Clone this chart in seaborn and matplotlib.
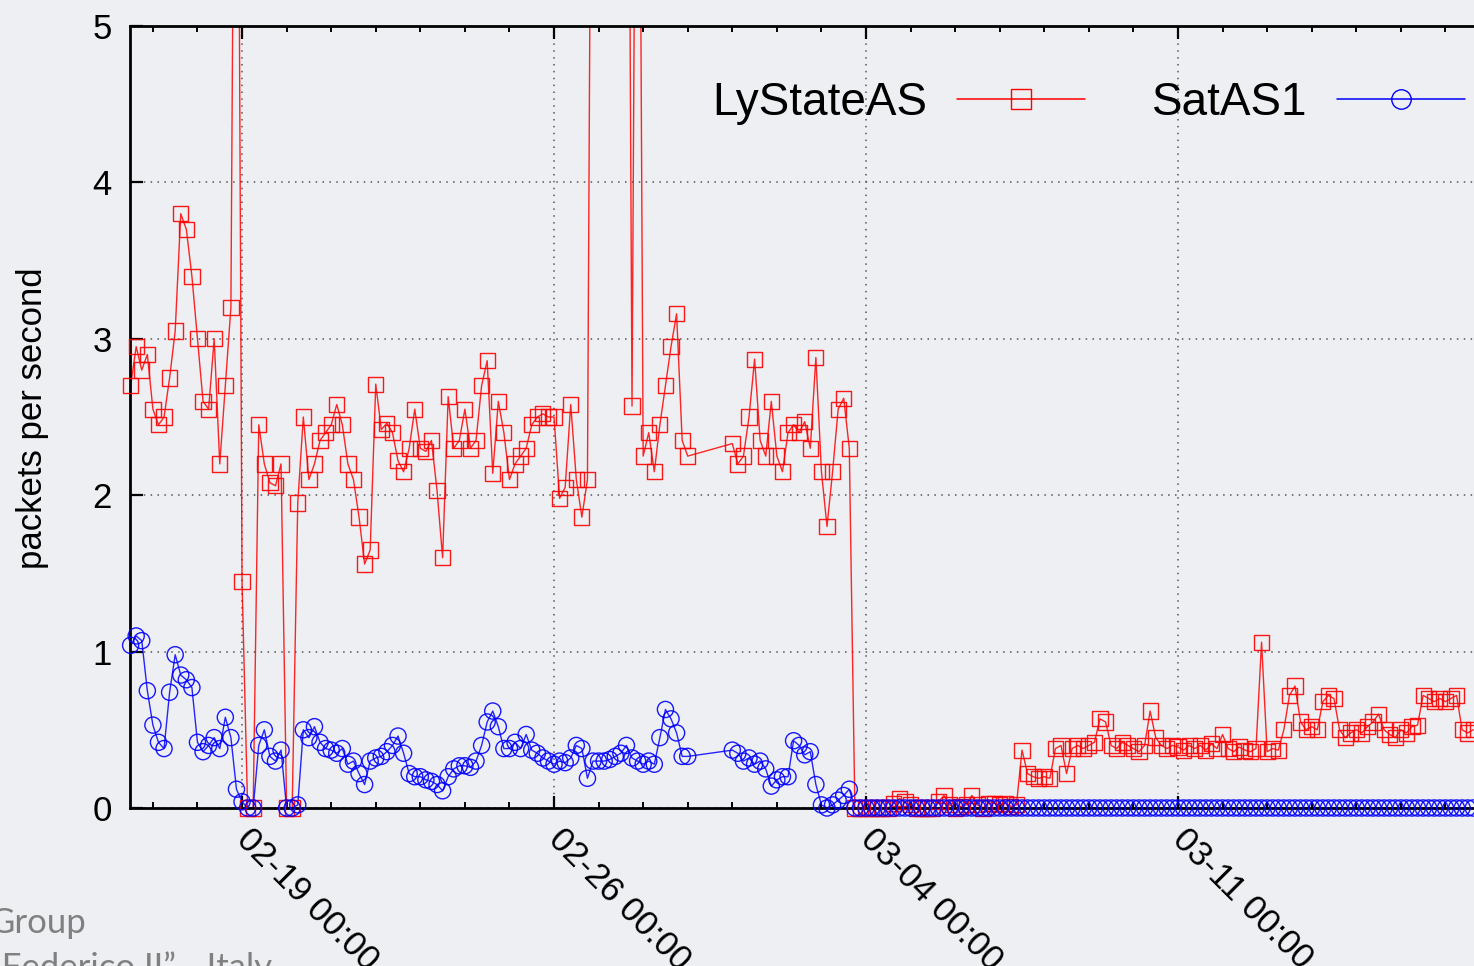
import numpy as np
import pandas as pd
import matplotlib
matplotlib.use("Agg")
import matplotlib.pyplot as plt
import matplotlib.dates as mdates
from matplotlib.lines import Line2D
import seaborn as sns

nan = np.nan

# samples every 3 hours starting 2008-02-16 12:00
start_time = "2008-02-16 12:00"
sample_step = "3h"

lystate_pps = [
    2.70, 2.95, 2.80, 2.90,                          # 02-16 12h-21h
    2.55, 2.45, 2.50, 2.75, 3.05, 3.80, 3.70, 3.40,  # 02-17
    3.00, 2.60, 2.55, 3.00, 2.20, 2.70, 3.20, 9.00,  # 02-18
    1.45, 0.00, 0.00, 2.45, 2.20, 2.08, 2.06, 2.20,  # 02-19
    0.00, 0.00, 1.95, 2.50, 2.10, 2.20, 2.35, 2.40,  # 02-20
    2.45, 2.58, 2.45, 2.20, 2.10, 1.86, 1.56, 1.65,  # 02-21
    2.71, 2.42, 2.46, 2.40, 2.22, 2.15, 2.30, 2.55,  # 02-22
    2.30, 2.28, 2.35, 2.03, 1.60, 2.63, 2.30, 2.35,  # 02-23
    2.55, 2.30, 2.35, 2.70, 2.86, 2.14, 2.60, 2.40,  # 02-24
    2.10, 2.20, 2.25, 2.30, 2.45, 2.50, 2.52, 2.50,  # 02-25
    2.50, 1.98, 2.05, 2.58, 2.10, 1.86, 2.10, 9.00,  # 02-26
    8.50, 12.0, 10.0, 9.00, 11.0, 9.50, 2.57, 9.00,  # 02-27
    2.25, 2.40, 2.15, 2.45, 2.70, 2.95, 3.16, 2.35,  # 02-28
    2.25, nan, nan, nan, nan, nan, nan, nan,          # 02-29 (no data)
    2.33, 2.20, 2.25, 2.50, 2.87, 2.35, 2.25, 2.60,  # 03-01
    2.25, 2.15, 2.40, 2.45, 2.40, 2.47, 2.30, 2.88,  # 03-02
    2.15, 1.80, 2.15, 2.55, 2.62, 2.30, 0.00, 0.00,  # 03-03
    0.00, 0.00, 0.00, 0.00, 0.00, 0.03, 0.06, 0.04,  # 03-04
    0.02, 0.00, 0.00, 0.00, 0.00, 0.04, 0.08, 0.02,  # 03-05
    0.00, 0.01, 0.02, 0.08, 0.02, 0.00, 0.03, 0.03,  # 03-06
    0.02, 0.03, 0.01, 0.02, 0.37, 0.22, 0.20, 0.19,  # 03-07
    0.20, 0.19, 0.38, 0.40, 0.22, 0.38, 0.40, 0.38,  # 03-08
    0.40, 0.42, 0.57, 0.55, 0.40, 0.38, 0.42, 0.40,  # 03-09
    0.38, 0.36, 0.40, 0.62, 0.45, 0.40, 0.38, 0.40,  # 03-10
    0.39, 0.37, 0.40, 0.38, 0.40, 0.37, 0.41, 0.38,  # 03-11
    0.47, 0.38, 0.36, 0.39, 0.37, 0.36, 0.38, 1.06,  # 03-12
    0.36, 0.38, 0.37, 0.50, 0.72, 0.78, 0.55, 0.50,  # 03-13
    0.52, 0.50, 0.68, 0.72, 0.70, 0.50, 0.45, 0.48,  # 03-14
    0.50, 0.48, 0.52, 0.55, 0.60, 0.50, 0.47, 0.45,  # 03-15
    0.50, 0.48, 0.52, 0.53, 0.72, 0.70, 0.68, 0.70,  # 03-16
    0.68, 0.70, 0.72, 0.50, 0.48, 0.50,              # 03-17 00h-15h
]

satas1_pps = [
    1.04, 1.10, 1.07, 0.75,                          # 02-16 12h-21h
    0.53, 0.42, 0.38, 0.74, 0.98, 0.85, 0.82, 0.77,  # 02-17
    0.42, 0.36, 0.40, 0.45, 0.38, 0.58, 0.45, 0.12,  # 02-18
    0.04, 0.00, 0.00, 0.40, 0.50, 0.33, 0.30, 0.37,  # 02-19
    0.00, 0.00, 0.02, 0.50, 0.45, 0.52, 0.42, 0.38,  # 02-20
    0.37, 0.35, 0.38, 0.28, 0.30, 0.22, 0.15, 0.30,  # 02-21
    0.32, 0.33, 0.36, 0.40, 0.46, 0.35, 0.22, 0.20,  # 02-22
    0.20, 0.18, 0.17, 0.15, 0.11, 0.20, 0.25, 0.27,  # 02-23
    0.27, 0.26, 0.30, 0.40, 0.55, 0.62, 0.52, 0.38,  # 02-24
    0.38, 0.42, 0.38, 0.47, 0.37, 0.35, 0.32, 0.30,  # 02-25
    0.28, 0.30, 0.29, 0.32, 0.40, 0.38, 0.19, 0.30,  # 02-26
    0.30, 0.30, 0.31, 0.33, 0.35, 0.40, 0.32, 0.30,  # 02-27
    0.28, 0.30, 0.28, 0.45, 0.63, 0.57, 0.48, 0.33,  # 02-28
    0.33, nan, nan, nan, nan, nan, nan, nan,          # 02-29 (no data)
    0.37, 0.35, 0.30, 0.32, 0.28, 0.30, 0.25, 0.14,  # 03-01
    0.18, 0.20, 0.20, 0.43, 0.40, 0.34, 0.36, 0.15,  # 03-02
    0.02, 0.00, 0.02, 0.05, 0.08, 0.12, 0.00, 0.00,  # 03-03
    0.00, 0.00, 0.00, 0.00, 0.00, 0.00, 0.00, 0.00,  # 03-04
    0.00, 0.00, 0.00, 0.00, 0.00, 0.00, 0.00, 0.00,  # 03-05
    0.00, 0.00, 0.00, 0.00, 0.00, 0.00, 0.00, 0.00,  # 03-06
    0.00, 0.00, 0.00, 0.00, 0.00, 0.00, 0.00, 0.00,  # 03-07
    0.00, 0.00, 0.00, 0.00, 0.00, 0.00, 0.00, 0.00,  # 03-08
    0.00, 0.00, 0.00, 0.00, 0.00, 0.00, 0.00, 0.00,  # 03-09
    0.00, 0.00, 0.00, 0.00, 0.00, 0.00, 0.00, 0.00,  # 03-10
    0.00, 0.00, 0.00, 0.00, 0.00, 0.00, 0.00, 0.00,  # 03-11
    0.00, 0.00, 0.00, 0.00, 0.00, 0.00, 0.00, 0.00,  # 03-12
    0.00, 0.00, 0.00, 0.00, 0.00, 0.00, 0.00, 0.00,  # 03-13
    0.00, 0.00, 0.00, 0.00, 0.00, 0.00, 0.00, 0.00,  # 03-14
    0.00, 0.00, 0.00, 0.00, 0.00, 0.00, 0.00, 0.00,  # 03-15
    0.00, 0.00, 0.00, 0.00, 0.00, 0.00, 0.00, 0.00,  # 03-16
    0.00, 0.00, 0.00, 0.00, 0.00, 0.00,              # 03-17 00h-15h
]

series_names = ["LyStateAS", "SatAS1"]
series_colors = ["#ff0000", "#0000ff"]
series_markers = ["s", "o"]

tick_dates = ["2008-02-19", "2008-02-26", "2008-03-04", "2008-03-11"]
y_ticks = [0, 1, 2, 3, 4, 5]

times = pd.date_range(start_time, periods=len(lystate_pps), freq=sample_step)
df = pd.DataFrame({"time": times, "LyStateAS": lystate_pps, "SatAS1": satas1_pps})
df = df.melt(id_vars="time", var_name="series", value_name="pps").dropna()

bg = "#eeeff2"
sns.set_style("ticks", {"axes.facecolor": bg, "figure.facecolor": bg,
                        "axes.edgecolor": "black", "text.color": "black",
                        "xtick.color": "black", "ytick.color": "black",
                        "axes.labelcolor": "black"})
plt.rcParams["font.family"] = ["Liberation Sans", "DejaVu Sans"]

W, H = 1474, 966
fig = plt.figure(figsize=(W / 100, H / 100), dpi=100)
# plot box: left edge at x=130, y from 26 (top) to 808 (bottom); right side runs off the image
ax = fig.add_axes([130 / W, (H - 808) / H, (1494 - 130) / W, (808 - 26) / H])

for name, color, mk in zip(series_names, series_colors, series_markers):
    d = df[df["series"] == name]
    sns.lineplot(data=d, x="time", y="pps", color=color, lw=1.0, alpha=0.85,
                 estimator=None, ax=ax, legend=False)
    # markers are not clipped at the frame (gnuplot style), spikes off the top are skipped
    pts = d[d["pps"] <= 5]
    sns.scatterplot(data=pts, x="time", y="pps", marker=mk, s=120 if mk == "s" else 135,
                    facecolor="none", edgecolor=color, linewidth=1.0, alpha=0.9,
                    clip_on=False, ax=ax, legend=False, zorder=3)

ax.set_ylim(0, 5)
ax.set_xlim(pd.Timestamp("2008-02-16 11:40"), pd.Timestamp("2008-03-18 02:10"))

major = pd.to_datetime(tick_dates)
ax.set_xticks(mdates.date2num(major), labels=[t.strftime("%m-%d %H:%M") for t in major],
              rotation=-45, ha="left", va="center", rotation_mode="anchor", color="black")
ax.xaxis.set_minor_locator(mdates.DayLocator())
ax.set_yticks(y_ticks, labels=[str(v) for v in y_ticks], color="black")

ax.tick_params(axis="both", which="major", direction="in", length=9, width=1.6,
               top=True, right=False, labelsize=25, color="black")
ax.tick_params(axis="x", which="major", pad=19)
ax.tick_params(axis="y", which="major", pad=13)
ax.tick_params(axis="x", which="minor", direction="in", length=4.5, width=1.4,
               top=True, bottom=True, color="black")
for s in ax.spines.values():
    s.set_linewidth(2)
    s.set_color("black")

ax.grid(True, which="major", axis="both", color="#555555", linestyle=(0, (1, 3.5)), lw=1.1)
ax.set_xlabel("")
ax.set_ylabel("")

fig.text(33 / W, 1 - 418 / H, "packets per second", rotation=90, ha="center", va="center",
         fontsize=25, color="black")

handles = [Line2D([0], [0], color=c, marker=m, mfc="none", mec=c, ms=14, lw=1.1)
           for c, m in zip(series_colors, series_markers)]
leg = ax.legend(handles, series_names, loc="center left", bbox_to_anchor=(712 / W, 1 - 103 / H),
                bbox_transform=fig.transFigure, ncol=2, frameon=False, markerfirst=False,
                fontsize=33, handlelength=2.8, handletextpad=0.65, columnspacing=1.45,
                borderpad=0, borderaxespad=0)
for t in leg.get_texts():
    t.set_color("black")

# slide text bleeding in at the bottom-left corner
fig.text(86 / W, 1 - 933 / H, "Group", ha="right", va="baseline", fontsize=25,
         color="#808080", family=["Lato", "DejaVu Sans"])
fig.text(272 / W, 1 - 978 / H, "\u201cFederico II\u201d - Italy", ha="right", va="baseline",
         fontsize=25, color="#808080", family=["Lato", "DejaVu Sans"])

fig.savefig("out.png", dpi=100, facecolor=bg)
